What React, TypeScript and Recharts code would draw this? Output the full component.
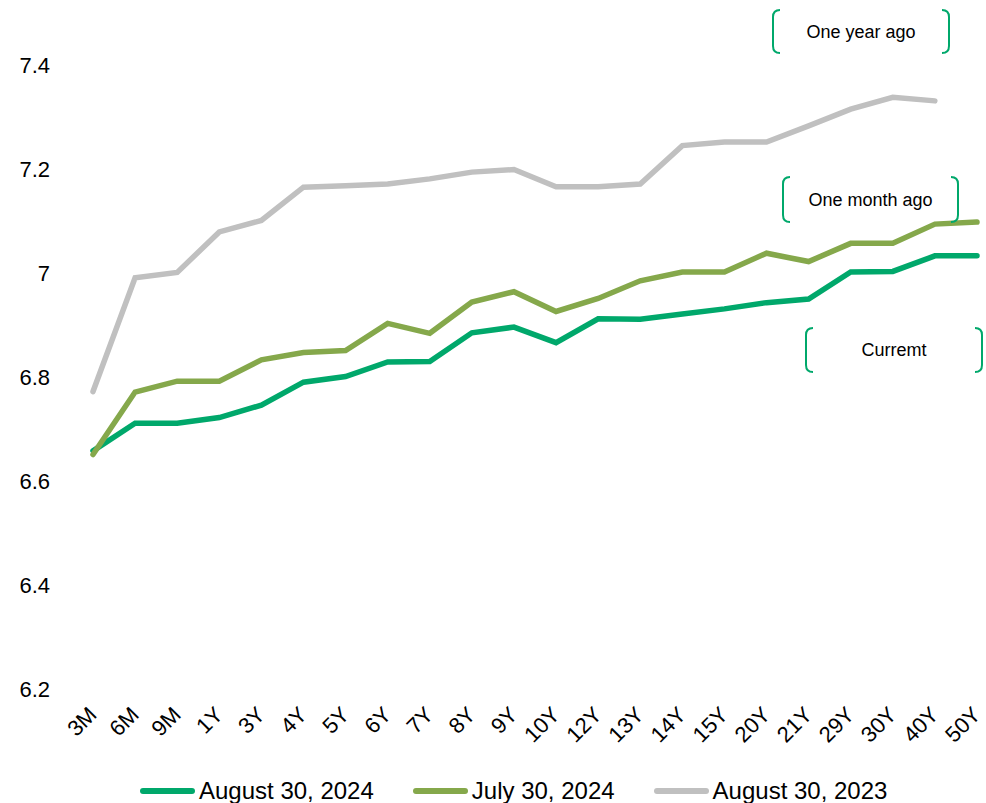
import { LineChart, Line, XAxis, YAxis, Legend } from 'recharts';

const tenors = ['3M', '6M', '9M', '1Y', '3Y', '4Y', '5Y', '6Y', '7Y', '8Y', '9Y', '10Y', '12Y', '13Y', '14Y', '15Y', '20Y', '21Y', '29Y', '30Y', '40Y', '50Y'];
const current = [6.658, 6.711, 6.711, 6.722, 6.746, 6.79, 6.801, 6.829, 6.83, 6.885, 6.896, 6.866, 6.912, 6.911, 6.921, 6.931, 6.943, 6.95, 7.002, 7.003, 7.033, 7.033];
const monthAgo = [6.651, 6.771, 6.792, 6.792, 6.833, 6.847, 6.851, 6.903, 6.884, 6.944, 6.964, 6.926, 6.951, 6.985, 7.002, 7.002, 7.038, 7.022, 7.057, 7.057, 7.094, 7.098];
const yearAgo = [6.772, 6.991, 7.001, 7.079, 7.101, 7.165, 7.168, 7.171, 7.181, 7.194, 7.199, 7.166, 7.166, 7.171, 7.245, 7.252, 7.252, 7.283, 7.315, 7.338, 7.331, null];
const yTicks = [6.2, 6.4, 6.6, 6.8, 7, 7.2, 7.4];

const SERIES = [
  { key: 'current', name: 'August 30, 2024', color: '#00a86b' },
  { key: 'monthAgo', name: 'July 30, 2024', color: '#85a84b' },
  { key: 'yearAgo', name: 'August 30, 2023', color: '#c0c0c0' },
];

// bracket labels on the right side
const NOTES = [
  { text: 'One year ago', left: 773, right: 949, top: 10, bottom: 53 },
  { text: 'One month ago', left: 783, right: 958, top: 177, bottom: 222 },
  { text: 'Curremt', left: 806, right: 982, top: 328, bottom: 372 },
];

const FONT = '"Liberation Sans", Arial, sans-serif';
const GREEN = '#00a86b';

const data = tenors.map((t, i) => ({
  tenor: t,
  current: current[i],
  monthAgo: monthAgo[i],
  yearAgo: yearAgo[i],
}));

const XTick = ({ x, y, payload }: any) => (
  <text
    x={x + 5}
    y={y + 27}
    transform={`rotate(-45 ${x + 5} ${y + 27})`}
    textAnchor="end"
    style={{ fontSize: 22, fontFamily: FONT }}
    fill="#000"
  >
    {payload.value}
  </text>
);

const LegendContent = () => (
  <div style={{ height: 40, boxSizing: 'border-box', paddingTop: 16, display: 'flex', alignItems: 'center', paddingLeft: 140 }}>
    {SERIES.map((s, i) => (
      <div key={s.key} style={{ display: 'flex', alignItems: 'center', marginLeft: i === 0 ? 0 : 39, height: 24 }}>
        <div style={{ width: 55, height: 6, borderRadius: 3, background: s.color, marginRight: 4 }} />
        <span style={{ fontFamily: FONT, fontSize: 24, color: '#000', lineHeight: '24px' }}>{s.name}</span>
      </div>
    ))}
  </div>
);

function Bracket({ left, right, top, bottom, text }: typeof NOTES[number]) {
  const h = 7;
  return (
    <g>
      <path
        d={`M ${left + h} ${top} Q ${left} ${top} ${left} ${top + h} L ${left} ${bottom - h} Q ${left} ${bottom} ${left + h} ${bottom}`}
        fill="none" stroke={GREEN} strokeWidth={2}
      />
      <path
        d={`M ${right - h} ${top} Q ${right} ${top} ${right} ${top + h} L ${right} ${bottom - h} Q ${right} ${bottom} ${right - h} ${bottom}`}
        fill="none" stroke={GREEN} strokeWidth={2}
      />
      <text
        x={(left + right) / 2}
        y={(top + bottom) / 2}
        textAnchor="middle"
        dominantBaseline="central"
        fontSize={18}
        fontFamily={FONT}
        fill="#000"
      >
        {text}
      </text>
    </g>
  );
}

export default function App() {
  return (
    <div style={{ position: 'absolute', left: 0, top: 0, width: 986, height: 803, background: '#fff' }}>
      <LineChart width={986} height={803} data={data} margin={{ top: 65, right: 9, bottom: 0, left: 33 }}>
        <XAxis
          dataKey="tenor"
          axisLine={false}
          tickLine={false}
          tickSize={0}
          tickMargin={0}
          height={74}
          interval={0}
          tick={<XTick />}
        />
        <YAxis
          domain={[6.2, 7.4]}
          ticks={yTicks}
          axisLine={false}
          tickLine={false}
          tickSize={0}
          tickMargin={43}
          width={60}
          tick={{ fill: '#000', fontSize: 22, fontFamily: FONT }}
        />
        <Legend verticalAlign="bottom" height={40} content={<LegendContent />} wrapperStyle={{ left: 0, width: 986 }} />
        {SERIES.map(s => (
          <Line
            key={s.key}
            dataKey={s.key}
            name={s.name}
            stroke={s.color}
            strokeWidth={5.5}
            strokeLinecap="round"
            dot={false}
            activeDot={false}
            isAnimationActive={false}
          />
        ))}
      </LineChart>
      <svg width={986} height={803} style={{ position: 'absolute', left: 0, top: 0, pointerEvents: 'none' }}>
        {NOTES.map(n => <Bracket key={n.text} {...n} />)}
      </svg>
    </div>
  );
}
